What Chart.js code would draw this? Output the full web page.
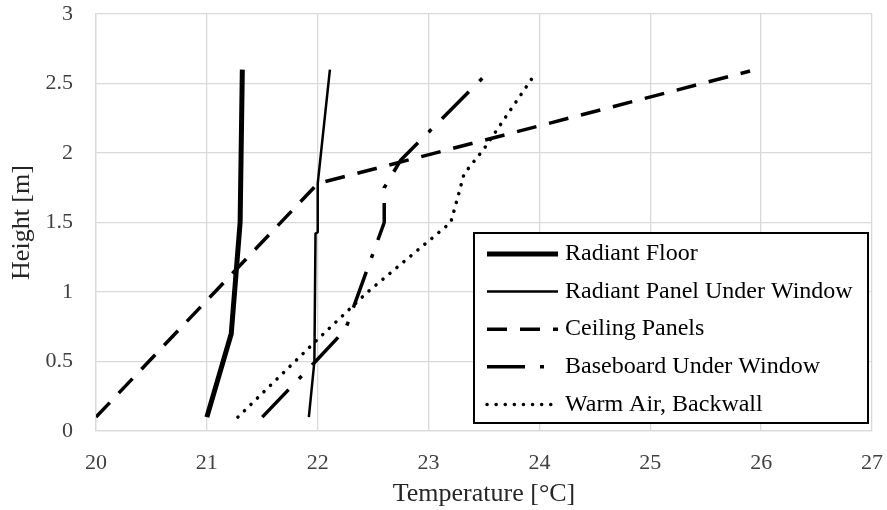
<!DOCTYPE html>
<html>
<head>
<meta charset="utf-8">
<script src="https://cdn.jsdelivr.net/npm/chart.js@4.4.0/dist/chart.umd.min.js"></script>
<style>
  html, body { margin: 0; padding: 0; background: #fff; }
</style>
</head>
<body>
<canvas id="profileChart" width="887" height="510"></canvas>
<script>
// Temperature [°C] vs height [m] for each heating system
const seriesNames = ['Radiant Floor', 'Radiant Panel Under Window', 'Ceiling Panels', 'Baseboard Under Window', 'Warm Air, Backwall'];

const floorTemp = [21.0, 21.22, 21.3, 21.32];
const floorHeight = [0.1, 0.7, 1.5, 2.6];

const panelTemp = [21.92, 21.97, 21.98, 22.0, 22.0, 22.11];
const panelHeight = [0.1, 0.5, 1.42, 1.43, 1.78, 2.6];

const ceilingTemp = [20.0, 22.0, 25.9];
const ceilingHeight = [0.1, 1.78, 2.59];

const baseboardTemp = [21.5, 21.98, 22.25, 22.6, 22.6, 22.75, 23.5];
const baseboardHeight = [0.1, 0.5, 0.73, 1.5, 1.75, 1.95, 2.55];

const warmAirTemp = [21.28, 22.0, 22.45, 23.2, 23.27, 23.32, 23.5, 23.97];
const warmAirHeight = [0.1, 0.66, 1.0, 1.5, 1.7, 1.85, 2.03, 2.58];

const xTicks = [20, 21, 22, 23, 24, 25, 26, 27];
const yTicks = [0, 0.5, 1, 1.5, 2, 2.5, 3];

const serif = "'Liberation Serif', 'Times New Roman', serif";

function toPoints(temps, heights) {
  return temps.map((t, i) => ({ x: t, y: heights[i] }));
}

// line styles for each series
const styles = [
  { width: 5, dash: [], cap: 'butt' },
  { width: 2.5, dash: [], cap: 'butt' },
  { width: 3.5, dash: [20, 13], cap: 'butt' },
  { width: 3.5, dash: [38, 15, 4, 15], cap: 'butt' },
  { width: 3.5, dash: [0.1, 9], cap: 'round' },
];

const allData = [
  toPoints(floorTemp, floorHeight),
  toPoints(panelTemp, panelHeight),
  toPoints(ceilingTemp, ceilingHeight),
  toPoints(baseboardTemp, baseboardHeight),
  toPoints(warmAirTemp, warmAirHeight),
];

const datasets = seriesNames.map((name, i) => ({
  label: name,
  data: allData[i],
  showLine: true,
  borderColor: '#000000',
  backgroundColor: '#000000',
  borderWidth: styles[i].width,
  borderDash: styles[i].dash,
  borderCapStyle: styles[i].cap,
  borderJoinStyle: 'round',
  pointRadius: 0,
  pointHoverRadius: 0,
  tension: 0,
  fill: false,
}));

// Boxed legend drawn inside the plot area, lower right
const boxLegend = {
  id: 'boxLegend',
  afterDraw(chart) {
    const ctx = chart.ctx;
    const area = chart.chartArea;
    const right = area.right - 4;
    const bottom = area.bottom - 8;
    const left = right - 394;
    const top = bottom - 190;
    ctx.save();
    ctx.fillStyle = '#ffffff';
    ctx.fillRect(left, top, right - left, bottom - top);
    ctx.strokeStyle = '#000000';
    ctx.lineWidth = 2;
    ctx.strokeRect(left, top, right - left, bottom - top);

    ctx.font = '24px ' + serif;
    ctx.textBaseline = 'middle';
    ctx.textAlign = 'left';
    chart.data.datasets.forEach((ds, i) => {
      const y = top + 21 + i * 37.6;
      ctx.beginPath();
      ctx.setLineDash(ds.borderDash);
      ctx.lineCap = ds.borderCapStyle;
      ctx.lineWidth = ds.borderWidth;
      ctx.strokeStyle = ds.borderColor;
      ctx.moveTo(left + 13, y);
      ctx.lineTo(left + 84, y);
      ctx.stroke();
      ctx.setLineDash([]);
      ctx.fillStyle = '#000000';
      ctx.fillText(ds.label, left + 91, y);
    });
    ctx.restore();
  }
};

const ctx = document.getElementById('profileChart').getContext('2d');
const chart = new Chart(ctx, {
  type: 'scatter',
  data: { datasets: datasets },
  options: {
    responsive: false,
    animation: false,
    layout: { padding: { top: 14, right: 15, left: 0, bottom: 0 } },
    plugins: {
      legend: { display: false },
      tooltip: { enabled: false },
    },
    scales: {
      x: {
        type: 'linear',
        min: xTicks[0],
        max: xTicks[xTicks.length - 1],
        afterBuildTicks: (scale) => { scale.ticks = xTicks.map(v => ({ value: v })); },
        afterFit: (scale) => { scale.height = 79; },
        ticks: { font: { family: serif, size: 22 }, color: '#404040', padding: 0 },
        grid: { color: '#d9d9d9', lineWidth: 1.3, drawTicks: true, tickLength: 19, tickColor: 'rgba(0,0,0,0)' },
        border: { color: '#d9d9d9', width: 1.3 },
        title: { display: true, text: 'Temperature [°C]', font: { family: serif, size: 26 }, color: '#262626', padding: { top: 0, bottom: 0 } },
      },
      y: {
        type: 'linear',
        min: yTicks[0],
        max: yTicks[yTicks.length - 1],
        afterBuildTicks: (scale) => { scale.ticks = yTicks.map(v => ({ value: v })); },
        afterFit: (scale) => { scale.width = 96; },
        ticks: { font: { family: serif, size: 22 }, color: '#404040', padding: 0, callback: (v) => String(v) },
        grid: { color: '#d9d9d9', lineWidth: 1.3, drawTicks: true, tickLength: 23, tickColor: 'rgba(0,0,0,0)' },
        border: { color: '#d9d9d9', width: 1.3 },
        title: { display: true, text: 'Height [m]', font: { family: serif, size: 26 }, color: '#262626', padding: { top: 7, bottom: 0 } },
      },
    },
  },
  plugins: [boxLegend],
});
</script>
</body>
</html>
